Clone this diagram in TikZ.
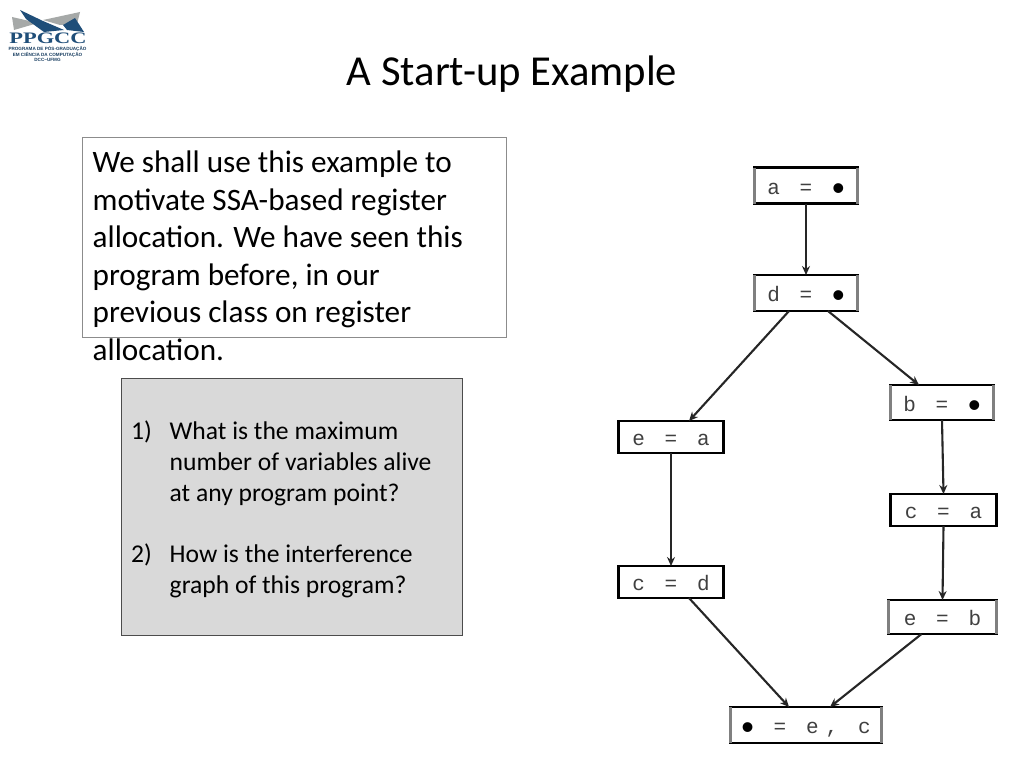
\documentclass[tikz,border=0pt]{standalone}
\usepackage{fontspec}
\usepackage{graphicx}
\setmainfont{Carlito}
\newfontfamily\codefont[LetterSpace=34]{Liberation Mono}
\newfontfamily\logofont{Liberation Serif}
\newfontfamily\logosans{Liberation Sans}
\usetikzlibrary{arrows.meta}
\definecolor{navy}{HTML}{1F4E79}
\definecolor{roofgrey}{HTML}{A6A9A8}
\newcommand{\blt}{\makebox[12.6pt]{\color{black}\fontsize{36}{20}\selectfont\raisebox{-6pt}{•}}}
\tikzset{
  stmt/.style={draw=black,line width=2.4pt,outer sep=0pt,fill=white,inner sep=0pt,text=black!75,text height=17pt,text depth=0pt,font=\codefont\fontsize{21}{20}\selectfont},
  flow/.style={draw=black!85,line width=2.1pt,-{Stealth[length=9pt,width=8pt]}},
  sideshade/.style={draw=black!50,line width=2.4pt},
  notebox/.style={draw=black!45,line width=0.8pt,fill=white},
  greybox/.style={draw=black!70,line width=0.8pt,fill=black!15},
  bodytext/.style={anchor=north west,inner sep=0pt,align=left,font=\fontsize{31.2}{37.5}\selectfont},
  listtext/.style={anchor=north west,inner sep=0pt,align=left,font=\fontsize{25.6}{30.7}\selectfont},
}
\begin{document}
\begin{tikzpicture}[x=1pt,y=-1pt]
\useasboundingbox (0,0) rectangle (1024,768);
\fill[white] (0,0) rectangle (1024,768);
% logo
\fill[roofgrey] (12,17) -- (38,23) -- (14,30) -- cycle;
\fill[roofgrey] (43,20) -- (80,12) -- (77,24) -- (60,25) -- cycle;
\fill[navy] (20,10) -- (43,21) -- (64,30) -- (44,32) -- (26,19) -- cycle;
\fill[navy] (63,25) -- (75,18) -- (84,32) -- (67,30) -- cycle;
\node[inner sep=0pt,text=navy,font=\logofont\bfseries\fontsize{16}{16}\selectfont] (logotitle) at (48,38) {\scalebox{1.4}[1]{PPGCC}};
\node[inner sep=0pt,align=center,text=navy!80!black,font=\logosans\bfseries\fontsize{4.6}{5.6}\selectfont] (logosub) at (47.5,54) {PROGRAMA DE PÓS-GRADUAÇÃO\\EM CIÊNCIA DA COMPUTAÇÃO\\DCC−UFMG};
% title
\node[inner sep=0pt,font=\fontsize{42.7}{48}\selectfont,text=black] (title) at (512,74) {A Start-up Example};
% note
\node[notebox,minimum width=424pt,minimum height=200pt,anchor=north west,inner sep=0pt] (note) at (82,137) {};
\node[bodytext] (notetext) at (92.5,151) {We shall use this example to\\motivate SSA-based register\\allocation. We have seen this\\program before, in our\\previous class on register\\allocation.};
% grey box
\node[greybox,minimum width=341pt,minimum height=257pt,anchor=north west,inner sep=0pt] (questions) at (121,378) {};
\node[listtext] (qtext) at (131,421) {\makebox[38.5pt][l]{1)}What is the maximum\\\hspace*{38.5pt}number of variables alive\\\hspace*{38.5pt}at any program point?\\[30.7pt]\makebox[38.5pt][l]{2)}How is the interference\\\hspace*{38.5pt}graph of this program?};
% flow graph nodes
\node[stmt,minimum width=103pt,minimum height=36pt] (a) at (806,185.5) {a = \blt};
\node[stmt,minimum width=103pt,minimum height=36pt] (d) at (806,293) {d = \blt};
\node[stmt,minimum width=103pt,minimum height=35pt] (b) at (942,402.5) {b = \blt};
\node[stmt,minimum width=105pt,minimum height=32pt] (e1) at (671,437) {e = a};
\node[stmt,minimum width=105pt,minimum height=32pt] (c1) at (671,582) {c = d};
\node[stmt,minimum width=106pt,minimum height=32pt] (c2) at (943.5,510) {c = a};
\node[stmt,minimum width=108pt,minimum height=34pt] (e2) at (942.5,617) {e = b};
\node[stmt,minimum width=151pt,minimum height=36pt] (x) at (806,725) {\blt{} = e, c};
% softened box sides
\foreach \n in {a,d,b,e2,x}{
  \draw[sideshade] (\n.north west) -- (\n.south west);
  \draw[sideshade] (\n.north east) -- (\n.south east);
}
% connectors
\draw[flow] (a.south) -- (d.north);
\draw[flow] ([xshift=-17pt]d.south) -- ([xshift=18pt]e1.north);
\draw[flow] ([xshift=22pt]d.south) -- ([xshift=-23pt]b.north);
\draw[flow] (e1.south) -- (c1.north);
\draw[flow] (b.south) -- (c2.north);
\draw[flow] (c2.south) -- (e2.north);
\draw[flow] ([xshift=18pt]c1.south) -- ([xshift=-17pt]x.north);
\draw[flow] ([xshift=-21pt]e2.south) -- ([xshift=24pt]x.north);
\end{tikzpicture}
\end{document}
